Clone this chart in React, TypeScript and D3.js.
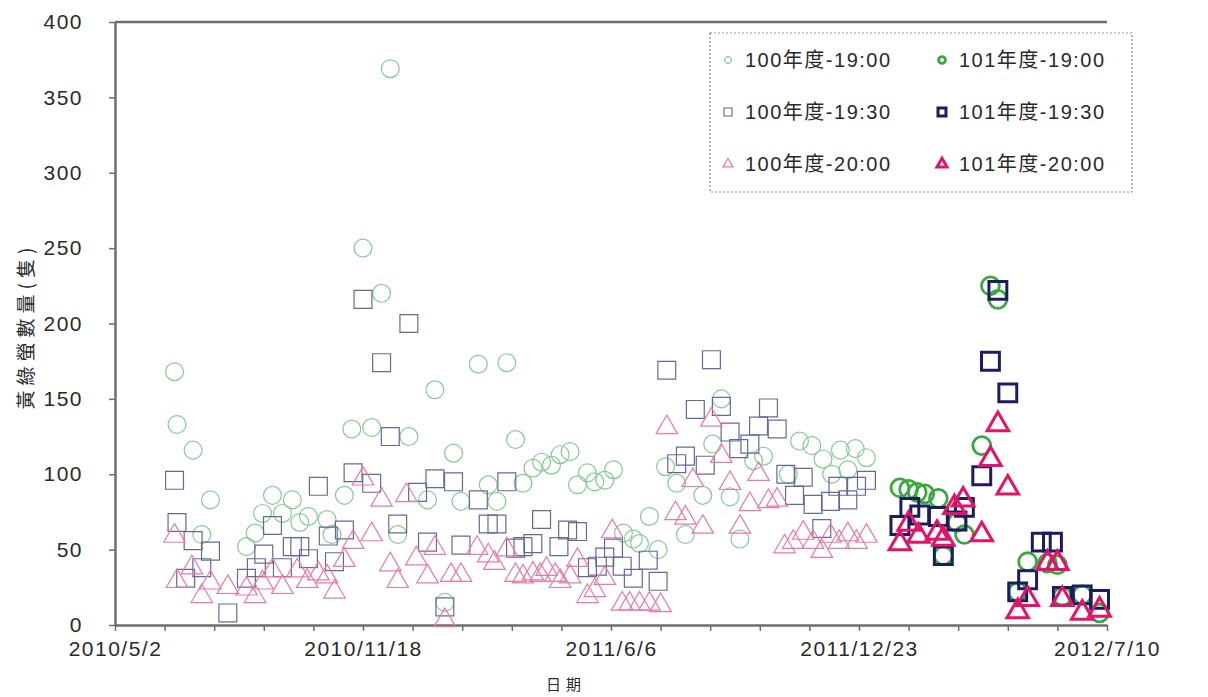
import { useEffect, useRef } from "react";
import * as d3 from "d3";

type Pt = [string, number];

// 100年度 (thin markers)
const s100_1900: Pt[] = [
  ["2010-06-19", 168], ["2010-06-21", 133], ["2010-07-04", 116], ["2010-07-11", 60], ["2010-07-18", 83],
  ["2010-08-16", 52], ["2010-08-23", 61], ["2010-08-29", 74], ["2010-09-06", 86], ["2010-09-14", 74],
  ["2010-09-22", 83], ["2010-09-28", 68], ["2010-10-05", 72], ["2010-10-20", 70], ["2010-10-24", 60],
  ["2010-11-03", 86], ["2010-11-09", 130], ["2010-11-18", 250], ["2010-11-25", 131], ["2010-12-03", 220],
  ["2010-12-10", 369], ["2010-12-16", 60], ["2010-12-25", 125], ["2011-01-09", 83], ["2011-01-15", 156],
  ["2011-01-23", 15], ["2011-01-30", 114], ["2011-02-05", 82], ["2011-02-19", 173], ["2011-02-27", 93],
  ["2011-03-06", 82], ["2011-03-14", 174], ["2011-03-21", 123], ["2011-03-27", 94], ["2011-04-04", 104],
  ["2011-04-11", 108], ["2011-04-19", 106], ["2011-04-26", 113], ["2011-05-04", 115], ["2011-05-10", 93],
  ["2011-05-18", 101], ["2011-05-24", 95], ["2011-06-01", 96], ["2011-06-08", 103], ["2011-06-16", 61],
  ["2011-06-24", 57], ["2011-06-29", 54], ["2011-07-07", 72], ["2011-07-14", 50], ["2011-07-20", 105],
  ["2011-07-29", 94], ["2011-08-05", 60], ["2011-08-19", 86], ["2011-08-27", 120], ["2011-09-03", 150],
  ["2011-09-10", 85], ["2011-09-18", 57], ["2011-09-29", 109], ["2011-10-07", 112], ["2011-10-27", 100],
  ["2011-11-05", 122], ["2011-11-15", 119], ["2011-11-24", 110], ["2011-12-01", 100], ["2011-12-08", 116],
  ["2011-12-14", 103], ["2011-12-20", 117], ["2011-12-29", 111],
];

const s100_1930: Pt[] = [
  ["2010-06-19", 96], ["2010-06-21", 68], ["2010-06-28", 31], ["2010-07-04", 56], ["2010-07-11", 38],
  ["2010-07-18", 49], ["2010-08-01", 8], ["2010-08-16", 31], ["2010-08-24", 38], ["2010-08-30", 47],
  ["2010-09-06", 66], ["2010-09-14", 38], ["2010-09-22", 52], ["2010-09-28", 52], ["2010-10-05", 44],
  ["2010-10-13", 92], ["2010-10-21", 59], ["2010-10-26", 42], ["2010-11-03", 63], ["2010-11-10", 101],
  ["2010-11-18", 216], ["2010-11-25", 94], ["2010-12-03", 174], ["2010-12-10", 125], ["2010-12-16", 67],
  ["2010-12-25", 200], ["2011-01-01", 88], ["2011-01-09", 55], ["2011-01-15", 97], ["2011-01-23", 12],
  ["2011-01-30", 95], ["2011-02-05", 53], ["2011-02-19", 83], ["2011-02-27", 67], ["2011-03-06", 67],
  ["2011-03-14", 95], ["2011-03-21", 51], ["2011-03-27", 52], ["2011-04-04", 54], ["2011-04-11", 70],
  ["2011-04-25", 52], ["2011-05-02", 63], ["2011-05-10", 62], ["2011-05-18", 38], ["2011-05-26", 39],
  ["2011-06-01", 45], ["2011-06-08", 51], ["2011-06-15", 39], ["2011-06-24", 31], ["2011-07-06", 43],
  ["2011-07-14", 29], ["2011-07-21", 169], ["2011-07-29", 107], ["2011-08-05", 112], ["2011-08-13", 143],
  ["2011-08-21", 106], ["2011-08-26", 176], ["2011-09-03", 145], ["2011-09-10", 128], ["2011-09-17", 117],
  ["2011-09-26", 120], ["2011-10-03", 132], ["2011-10-11", 144], ["2011-10-18", 130], ["2011-10-25", 100],
  ["2011-11-01", 86], ["2011-11-08", 98], ["2011-11-16", 80], ["2011-11-23", 64], ["2011-11-30", 82],
  ["2011-12-06", 92], ["2011-12-14", 83], ["2011-12-21", 92], ["2011-12-29", 96],
];

const s100_2000: Pt[] = [
  ["2010-06-19", 59], ["2010-06-21", 29], ["2010-07-03", 38], ["2010-07-11", 19], ["2010-07-18", 28],
  ["2010-08-01", 25], ["2010-08-16", 24], ["2010-08-23", 19], ["2010-08-29", 28], ["2010-09-06", 36],
  ["2010-09-14", 25], ["2010-09-26", 36], ["2010-10-04", 29], ["2010-10-13", 34], ["2010-10-20", 32],
  ["2010-10-26", 22], ["2010-11-03", 43], ["2010-11-10", 55], ["2010-11-18", 97], ["2010-11-25", 60],
  ["2010-12-03", 83], ["2010-12-10", 40], ["2010-12-16", 29], ["2010-12-23", 86], ["2010-12-31", 44],
  ["2011-01-09", 32], ["2011-01-15", 51], ["2011-01-23", 3], ["2011-01-28", 33], ["2011-02-05", 33],
  ["2011-02-18", 51], ["2011-02-27", 46], ["2011-03-04", 41], ["2011-03-14", 50], ["2011-03-21", 33],
  ["2011-03-27", 32], ["2011-04-04", 34], ["2011-04-10", 33], ["2011-04-15", 37], ["2011-04-22", 33],
  ["2011-04-26", 29], ["2011-05-04", 32], ["2011-05-10", 43], ["2011-05-18", 19], ["2011-05-24", 23],
  ["2011-06-01", 31], ["2011-06-07", 62], ["2011-06-15", 14], ["2011-06-21", 14], ["2011-06-29", 14],
  ["2011-07-07", 14], ["2011-07-16", 13], ["2011-07-21", 131], ["2011-07-28", 74], ["2011-08-05", 71],
  ["2011-08-11", 96], ["2011-08-19", 65], ["2011-08-26", 136], ["2011-09-03", 112], ["2011-09-10", 94],
  ["2011-09-18", 65], ["2011-09-26", 80], ["2011-10-03", 100], ["2011-10-11", 82], ["2011-10-18", 83],
  ["2011-10-24", 52], ["2011-10-31", 55], ["2011-11-08", 61], ["2011-11-16", 55], ["2011-11-23", 49],
  ["2011-11-30", 59], ["2011-12-07", 55], ["2011-12-14", 60], ["2011-12-21", 55], ["2011-12-29", 59],
];

// 101年度 (thick markers)
const s101_1900: Pt[] = [
  ["2012-01-25", 91], ["2012-02-01", 90], ["2012-02-08", 88], ["2012-02-14", 87], ["2012-02-25", 84],
  ["2012-02-29", 46], ["2012-03-11", 68], ["2012-03-17", 60], ["2012-03-31", 119], ["2012-04-07", 225],
  ["2012-04-13", 216], ["2012-04-29", 22], ["2012-05-07", 42], ["2012-05-23", 41], ["2012-05-31", 40],
  ["2012-06-04", 19], ["2012-06-20", 20], ["2012-07-04", 8],
];

const s101_1930: Pt[] = [
  ["2012-01-25", 66], ["2012-02-02", 78], ["2012-02-10", 73], ["2012-02-25", 72], ["2012-02-29", 46],
  ["2012-03-11", 69], ["2012-03-17", 78], ["2012-03-31", 99], ["2012-04-07", 175], ["2012-04-13", 222],
  ["2012-04-21", 154], ["2012-04-29", 22], ["2012-05-07", 30], ["2012-05-18", 55], ["2012-05-27", 55],
  ["2012-06-04", 19], ["2012-06-20", 20], ["2012-07-04", 17],
];

const s101_2000: Pt[] = [
  ["2012-01-25", 54], ["2012-02-01", 67], ["2012-02-09", 59], ["2012-02-24", 61], ["2012-02-29", 57],
  ["2012-03-09", 78], ["2012-03-16", 83], ["2012-03-31", 60], ["2012-04-07", 110], ["2012-04-13", 133],
  ["2012-04-21", 91], ["2012-04-29", 9], ["2012-05-07", 17], ["2012-05-23", 41], ["2012-05-31", 41],
  ["2012-06-04", 17], ["2012-06-20", 8], ["2012-07-04", 10],
];

const yTicks = [0, 50, 100, 150, 200, 250, 300, 350, 400];
const xTickLabels = ["2010/5/2", "2010/11/18", "2011/6/6", "2011/12/23", "2012/7/10"];
const seriesLabels = [
  "100年度-19:00", "100年度-19:30", "100年度-20:00",
  "101年度-19:00", "101年度-19:30", "101年度-20:00",
];

const FONT = "'Liberation Sans', Arial, 'Noto Sans CJK TC', sans-serif";

const Chart = () => {
  const ref = useRef<HTMLDivElement>(null);

  useEffect(() => {
    const width = 1208;
    const height = 697;
    const m = { left: 115, right: 1107, top: 22, bottom: 625 };

    const svg = d3
      .select(ref.current)
      .html("")
      .append("svg")
      .attr("width", width)
      .attr("height", height)
      .style("display", "block")
      .style("background", "#fff")
      .style("font-family", FONT);

    const parseTick = d3.utcParse("%Y/%m/%d");
    const parse = d3.utcParse("%Y-%m-%d");
    const start = parseTick(xTickLabels[0])!;
    const end = parseTick(xTickLabels[xTickLabels.length - 1])!;

    const x = d3.scaleUtc().domain([start, end]).range([m.left, m.right]);
    const y = d3.scaleLinear().domain([0, 400]).range([m.bottom, m.top]);

    const axisColor = "#6e6e6e";
    const textColor = "#2a2a2a";

    // top border
    svg
      .append("line")
      .attr("x1", m.left)
      .attr("x2", m.right)
      .attr("y1", m.top)
      .attr("y2", m.top)
      .attr("stroke", axisColor)
      .attr("stroke-width", 2.5);

    // y axis
    const gy = svg
      .append("g")
      .attr("transform", `translate(${m.left},0)`)
      .call(d3.axisLeft(y).tickValues(yTicks).tickSize(6).tickSizeOuter(0).tickPadding(26));
    gy.select(".domain").attr("stroke", axisColor).attr("stroke-width", 2.5);
    gy.selectAll(".tick line").attr("stroke", axisColor).attr("stroke-width", 1.5);
    gy.selectAll(".tick text")
      .attr("fill", textColor)
      .style("font-size", "21px")
      .style("letter-spacing", "1.5px")
      .style("font-family", FONT);

    // x axis: minor ticks every 40 days, labels every 200 days
    const labelSet = new Set(xTickLabels.map((s) => +parseTick(s)!));
    const minor = d3.range(21).map((i) => d3.utcDay.offset(start, i * 40));
    const fmt = d3.utcFormat("%Y/%-m/%-d");
    const gx = svg
      .append("g")
      .attr("transform", `translate(0,${m.bottom})`)
      .call(
        d3
          .axisBottom(x)
          .tickValues(minor)
          .tickSize(6)
          .tickSizeOuter(0)
          .tickPadding(10)
          .tickFormat((d) => (labelSet.has(+d) ? fmt(d as Date) : ""))
      );
    gx.select(".domain").attr("stroke", axisColor).attr("stroke-width", 2.5);
    gx.selectAll(".tick line").attr("stroke", axisColor).attr("stroke-width", 1.5);
    gx.selectAll(".tick text")
      .attr("fill", textColor)
      .style("font-size", "21px")
      .style("letter-spacing", "1.5px")
      .style("font-family", FONT);

    // axis titles
    svg
      .append("text")
      .attr("transform", `translate(24,${(235 + 417) / 2}) rotate(-90)`)
      .attr("text-anchor", "middle")
      .attr("dominant-baseline", "central")
      .attr("fill", textColor)
      .style("font-size", "19px")
      .style("letter-spacing", "5px")
      .style("font-family", "'Noto Sans CJK TC', sans-serif")
      .text("黃綠螢數量(隻)");

    svg
      .append("text")
      .attr("x", 566)
      .attr("y", 683)
      .attr("text-anchor", "middle")
      .attr("dominant-baseline", "central")
      .attr("fill", textColor)
      .style("font-size", "15px")
      .style("letter-spacing", "5px")
      .style("font-family", "'Noto Sans CJK TC', sans-serif")
      .text("日期");

    const shapes = [d3.symbolCircle, d3.symbolSquare, d3.symbolTriangle];
    const sizes = [250, 320, 200];
    const series = [
      { data: s100_1900, shape: 0, color: "#86c995", sw: 1.2 },
      { data: s100_1930, shape: 1, color: "#66689a", sw: 1.2 },
      { data: s100_2000, shape: 2, color: "#e97aa6", sw: 1.2 },
      { data: s101_1900, shape: 0, color: "#3aa83e", sw: 2.8 },
      { data: s101_1930, shape: 1, color: "#1b1d5c", sw: 3 },
      { data: s101_2000, shape: 2, color: "#e2136a", sw: 3 },
    ].map((s, i) => ({ ...s, label: seriesLabels[i] }));

    series.forEach((s) => {
      const sym = d3.symbol().type(shapes[s.shape]).size(sizes[s.shape]);
      svg
        .append("g")
        .selectAll("path")
        .data(s.data)
        .enter()
        .append("path")
        .attr("d", sym()!)
        .attr("transform", (d) => `translate(${x(parse(d[0])!)},${y(d[1])})`)
        .attr("fill", "none")
        .attr("stroke", s.color)
        .attr("stroke-width", s.sw);
    });

    // legend
    const lg = svg.append("g");
    lg.append("rect")
      .attr("x", 710)
      .attr("y", 33)
      .attr("width", 422)
      .attr("height", 159)
      .attr("fill", "#fff")
      .attr("stroke", "#8a8a8a")
      .attr("stroke-width", 1.2)
      .attr("stroke-dasharray", "2,2");

    const legendSizes = [36, 64, 44];
    series.forEach((s, i) => {
      const col = i < 3 ? 0 : 1;
      const row = i % 3;
      const lx = col === 0 ? 728 : 942;
      const ly = 60 + row * 52;
      lg.append("path")
        .attr("d", d3.symbol().type(shapes[s.shape]).size(legendSizes[s.shape])()!)
        .attr("transform", `translate(${lx},${ly})`)
        .attr("fill", "none")
        .attr("stroke", s.color)
        .attr("stroke-width", s.sw);
      lg.append("text")
        .attr("x", lx + 17)
        .attr("y", ly)
        .attr("dominant-baseline", "central")
        .attr("fill", textColor)
        .style("font-size", "20px")
        .style("letter-spacing", "1.5px")
        .text(s.label);
    });
  }, []);

  return <div ref={ref} />;
};

export default function App() {
  return (
    <div style={{ position: "absolute", left: 0, top: 0 }}>
      <Chart />
    </div>
  );
}
